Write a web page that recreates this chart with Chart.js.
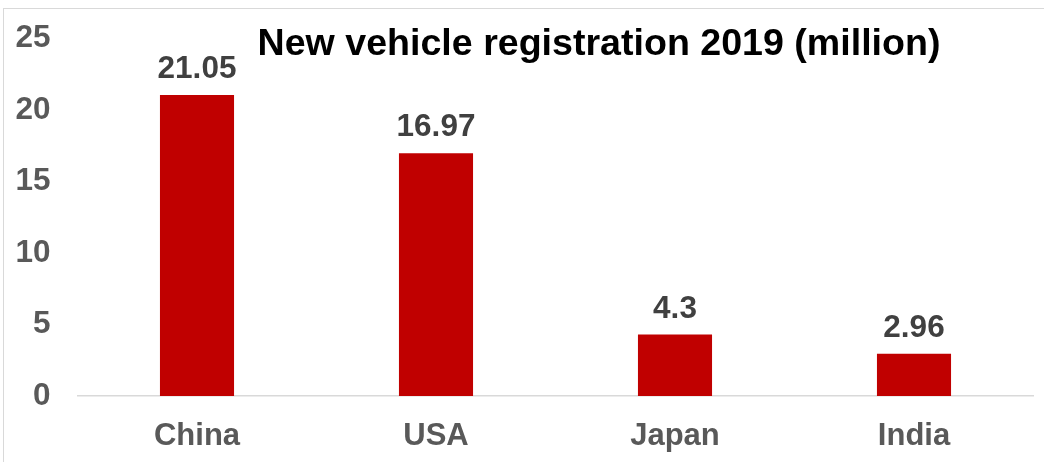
<!DOCTYPE html>
<html>
<head>
<meta charset="utf-8">
<script src="https://cdn.jsdelivr.net/npm/chart.js@4/dist/chart.umd.min.js"></script>
<style>
html,body{margin:0;padding:0;background:#fff;}
#frame{position:absolute;left:3px;top:8px;width:1100px;height:500px;border:1px solid #d9d9d9;}
#wrap{position:absolute;left:0;top:0;width:1044px;height:462px;}
</style>
</head>
<body>
<div id="frame"></div>
<div id="wrap"><canvas id="chart" width="1044" height="462"></canvas></div>
<script>
/*========== Data ==========*/

const categories=["China","USA","Japan","India"];
const registrations=[21.05,16.97,4.3,2.96];
const yTicks=[0,5,10,15,20,25];
const titleText="New vehicle registration 2019 (million)";

const FONT="'Liberation Sans', Arial, sans-serif";
const $=id=>document.getElementById(id);

/*========== Plugins ==========*/

const valueLabels={
    id:"valueLabels",
    afterDatasetsDraw(chart){
        const ctx=chart.ctx;
        ctx.save();
        ctx.font=`bold 31.5px ${FONT}`;
        ctx.fillStyle="#404040";
        ctx.textAlign="center";
        ctx.textBaseline="alphabetic";
        chart.getDatasetMeta(0).data.forEach((bar,i)=>{
            ctx.fillText(String(registrations[i]),bar.x,bar.y-17);
        });
        ctx.restore();
    }
};

const topTitle={
    id:"topTitle",
    afterDraw(chart){
        const ctx=chart.ctx;
        ctx.save();
        ctx.font=`bold 37.6px ${FONT}`;
        ctx.fillStyle="#000";
        ctx.textAlign="center";
        ctx.textBaseline="alphabetic";
        ctx.fillText(titleText,599,55);
        ctx.restore();
    }
};

/*========== Chart ==========*/

new Chart($("chart"),{
    type:"bar",
    data:{
        labels:categories,
        datasets:[{data:registrations,backgroundColor:"#c00000",categoryPercentage:1,barPercentage:0.31}]
    },
    options:{
        responsive:false,
        animation:false,
        layout:{padding:{top:38.5,right:10.5,left:0,bottom:0}},
        plugins:{legend:{display:false},tooltip:{enabled:false},title:{display:false}},
        scales:{
            x:{
                grid:{display:false,drawTicks:false},
                border:{display:true,color:"#d9d9d9",width:1.5},
                ticks:{color:"#595959",font:{family:FONT,size:31,weight:"bold"},padding:22},
                afterFit(s){s.height=66;}
            },
            y:{
                min:0,max:25,
                afterBuildTicks(s){s.ticks=yTicks.map(v=>({value:v}));},
                grid:{display:false,drawTicks:false},
                border:{display:false},
                ticks:{color:"#595959",font:{family:FONT,size:31.5,weight:"bold"},padding:27},
                afterFit(s){s.width=77.5;s.paddingTop=0;s.paddingBottom=0;}
            }
        }
    },
    plugins:[valueLabels,topTitle]
});
</script>
</body>
</html>
